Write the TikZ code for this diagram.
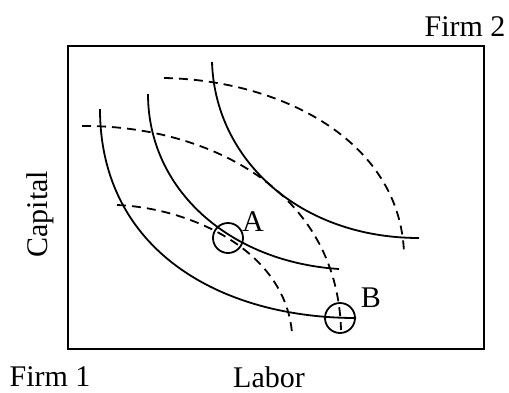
\documentclass[tikz,border=0pt]{standalone}
\usepackage{fontspec}
\setmainfont{Liberation Serif}
\begin{document}
\begin{tikzpicture}[x=1pt,y=-1pt,
  iso/.style={line width=1.8pt},
  isodash/.style={line width=1.8pt,dash pattern=on 9pt off 6pt},
  lbl/.style={font=\fontsize{30}{36}\selectfont,inner sep=0pt},
  pt/.style={circle,draw,line width=1.8pt,minimum size=30pt,inner sep=0pt}]
\useasboundingbox (0,0) rectangle (509,392);
% Edgeworth box
\draw[line width=2pt] (68,46) rectangle (484,349);
% Firm 1 isoquants (solid)
\draw[iso] (100,109) .. controls (100,250) and (220,318) .. (356,318);
\draw[iso] (148,94) .. controls (148,190) and (230,262) .. (339,269);
\draw[iso] (212,62) .. controls (215,160) and (300,238) .. (419,238);
% Firm 2 isoquants (dashed)
\draw[isodash] (117,205) .. controls (190,208) and (285,250) .. (292,333);
\draw[isodash] (82,126) .. controls (200,125) and (337,185) .. (341,330);
\draw[isodash] (164,78) .. controls (280,80) and (400,140) .. (404,253);
% points
\node[pt] (A) at (228,238) {};
\node[pt] (B) at (340,318) {};
\node[lbl] (Alab) at (253,222) {A};
\node[lbl] (Blab) at (371,298) {B};
% labels
\node[lbl] (f2) at (465,27) {Firm 2};
\node[lbl] (f1) at (50,377) {Firm 1};
\node[lbl] (lab) at (269,377) {Labor};
\node[lbl,rotate=90] (cap) at (40,214) {Capital};
\end{tikzpicture}
\end{document}
